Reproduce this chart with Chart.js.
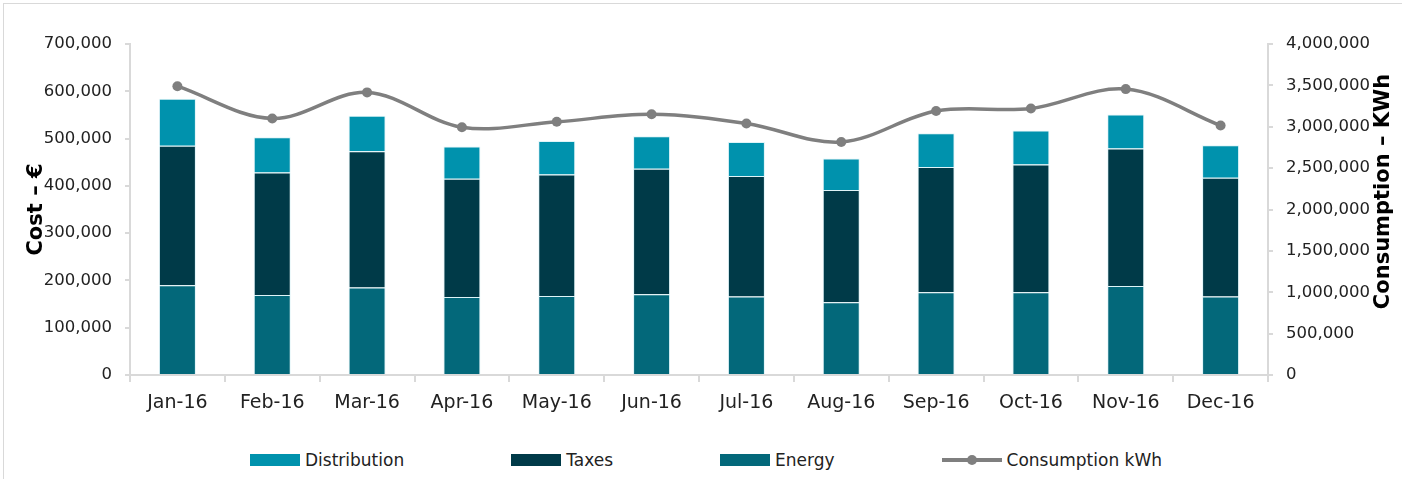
<!DOCTYPE html>
<html>
<head>
<meta charset="utf-8">
<script src="https://cdn.jsdelivr.net/npm/chart.js@4/dist/chart.umd.min.js"></script>
<style>
    html, body { margin: 0; padding: 0; background: #fff; }
    body { width: 1402px; height: 479px; position: relative; overflow: hidden; font-family: "DejaVu Sans", sans-serif; }
    .frame { position: absolute; left: 3px; top: 3px; width: 1410px; height: 490px; border-top: 1px solid #d9d9d9; border-left: 1px solid #d9d9d9; }
    #wrap { position: absolute; left: 0; top: 0; width: 1402px; height: 430px; }
    #legend { position: absolute; left: 250px; top: 449px; display: flex; align-items: center; gap: 107px; font-size: 17px; color: #222; }
    .item { display: flex; align-items: center; }
    .box { width: 50px; height: 12px; margin-right: 5px; }
    .lineSym { position: relative; width: 60px; height: 22px; margin-right: 5px; }
    .lineSym:before { content: ""; position: absolute; left: 0; right: 0; top: 9px; height: 4px; background: #7f7f7f; }
    .lineSym:after { content: ""; position: absolute; left: 25px; top: 6px; width: 10px; height: 10px; border-radius: 50%; background: #7f7f7f; }
</style>
</head>
<body>
<div class="frame"></div>
<div id="wrap"><canvas id="chartCost"></canvas></div>
<div id="legend"></div>

<script>
// DỮ LIỆU
const thang = ['Jan-16', 'Feb-16', 'Mar-16', 'Apr-16', 'May-16', 'Jun-16', 'Jul-16', 'Aug-16', 'Sep-16', 'Oct-16', 'Nov-16', 'Dec-16'];
const energy = [190000, 169000, 185000, 165000, 167000, 171000, 166000, 154000, 175000, 175000, 188000, 166000];
const taxes = [295000, 259000, 288000, 250000, 257000, 265000, 255000, 237000, 265000, 270000, 291000, 251000];
const distribution = [99000, 75000, 75000, 68000, 71000, 69000, 72000, 67000, 71000, 72000, 72000, 69000];
const consumption = [3490000, 3100000, 3415000, 2995000, 3060000, 3150000, 3040000, 2815000, 3190000, 3220000, 3455000, 3015000];

const mauDistribution = '#0092ad';
const mauTaxes = '#003a48';
const mauEnergy = '#03687a';
const mauLine = '#7f7f7f';
const mauTruc = '#d9d9d9';

const fmt = v => Number(v).toLocaleString('en-US');

// LEGEND HTML
const legendItems = [
    { text: 'Distribution', color: mauDistribution },
    { text: 'Taxes', color: mauTaxes },
    { text: 'Energy', color: mauEnergy },
    { text: 'Consumption kWh', line: true }
];
const legendEl = document.getElementById('legend');
legendItems.forEach(it => {
    const d = document.createElement('div');
    d.className = 'item';
    const sym = document.createElement('span');
    if (it.line) {
        sym.className = 'lineSym';
    } else {
        sym.className = 'box';
        sym.style.background = it.color;
    }
    d.appendChild(sym);
    const t = document.createElement('span');
    t.textContent = it.text;
    d.appendChild(t);
    legendEl.appendChild(d);
});

// tiêu đề trục phải: đọc từ dưới lên như trục trái
const rightTitle = {
    id: 'rightTitle',
    afterDraw(chart) {
        const { ctx, chartArea } = chart;
        ctx.save();
        ctx.translate(1384, (chartArea.top + chartArea.bottom) / 2 - 18);
        ctx.rotate(-Math.PI / 2);
        ctx.font = 'bold 21px "DejaVu Sans"';
        ctx.fillStyle = '#000';
        ctx.textAlign = 'center';
        ctx.textBaseline = 'middle';
        ctx.fillText('Consumption – KWh', 0, 0);
        ctx.restore();
    }
};

// BIỂU ĐỒ
const el = document.getElementById('chartCost');
const barStyle = { borderWidth: 1, borderColor: 'rgba(210,240,245,0.7)', categoryPercentage: 1, barPercentage: 0.39, yAxisID: 'y', order: 1 };

new Chart(el, {
    type: 'bar',
    data: {
        labels: thang,
        datasets: [
            { label: 'Energy', data: energy, backgroundColor: mauEnergy, ...barStyle },
            { label: 'Taxes', data: taxes, backgroundColor: mauTaxes, ...barStyle },
            { label: 'Distribution', data: distribution, backgroundColor: mauDistribution, ...barStyle },
            {
                type: 'line',
                label: 'Consumption kWh',
                data: consumption,
                yAxisID: 'y1',
                borderColor: mauLine,
                backgroundColor: mauLine,
                borderWidth: 3.5,
                pointRadius: 5,
                pointBorderWidth: 0,
                tension: 0.35,
                order: 0
            }
        ]
    },
    options: {
        responsive: true,
        maintainAspectRatio: false,
        animation: false,
        layout: { padding: { left: 22, right: 4, top: 44, bottom: 0 } },
        plugins: {
            legend: { display: false },
            tooltip: { enabled: false }
        },
        scales: {
            x: {
                stacked: true,
                afterFit: s => { s.height = 55; },
                border: { color: mauTruc, width: 2 },
                grid: { drawOnChartArea: false, tickLength: 7, color: mauTruc, lineWidth: 2 },
                ticks: { color: '#222', padding: 10, font: { family: 'DejaVu Sans', size: 19 }, maxRotation: 0 }
            },
            y: {
                stacked: true,
                position: 'left',
                min: 0,
                max: 700000,
                afterFit: s => { s.width = 108; },
                border: { color: mauTruc, width: 2 },
                grid: { drawOnChartArea: false, tickLength: 5, color: mauTruc, lineWidth: 2 },
                ticks: { stepSize: 100000, color: '#222', padding: 13, font: { family: 'DejaVu Sans', size: 16.5 }, callback: fmt },
                title: { display: true, text: 'Cost – €', color: '#000', padding: { top: 2, bottom: 0 }, font: { family: 'DejaVu Sans', size: 21, weight: 'bold' } }
            },
            y1: {
                position: 'right',
                min: 0,
                max: 4000000,
                afterFit: s => { s.width = 130; },
                border: { color: mauTruc, width: 2 },
                grid: { drawOnChartArea: false, tickLength: 5, color: mauTruc, lineWidth: 2 },
                ticks: { stepSize: 500000, color: '#222', padding: 13, font: { family: 'DejaVu Sans', size: 16.5 }, callback: fmt }
            }
        }
    },
    plugins: [rightTitle]
});
</script>
</body>
</html>
